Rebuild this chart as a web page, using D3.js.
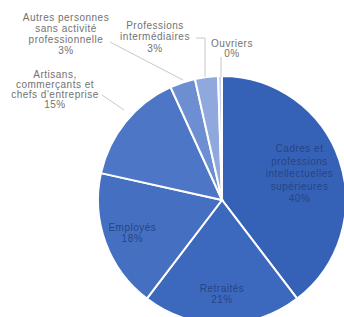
<!DOCTYPE html>
<html>
<head>
<meta charset="utf-8">
<script src="https://cdn.jsdelivr.net/npm/d3@7"></script>
<style>
  body { margin: 0; background: #fff; }
  text { font-family: "Liberation Sans", Arial, sans-serif; }
</style>
</head>
<body>
<div class="pieChart"></div>
<script>

// data, clockwise from 12 o'clock
var categories = [
  ["Cadres et", "professions", "intellectuelles", "supérieures"],
  ["Retraités"],
  ["Employés"],
  ["Artisans,", "commerçants et", "chefs d'entreprise"],
  ["Autres personnes", "sans activité", "professionnelle"],
  ["Professions", "intermédiaires"],
  ["Ouvriers"]
];
var values = [39.6, 20.7, 18.1, 14.7, 3.3, 3.0, 0.5];
var percentLabels = ["40%", "21%", "18%", "15%", "3%", "3%", "0%"];
var colors = ["#3562b6", "#3c69bd", "#4570c2", "#4d77c6", "#6d8fd2", "#8fa8dd", "#c3d0ee"];

var svgWidth = 344;
var svgHeight = 317;

var svg = d3
  .select(".pieChart")
  .append("svg")
  .attr("width", svgWidth)
  .attr("height", svgHeight);

var radius = 124;
var cx = 222, cy = 200;

var chartGroup = svg
  .append("g")
  .attr("transform", `translate(${cx}, ${cy})`);

var pie = d3.pie().sort(null).value(d => d);
var arcs = pie(values);

var arc = d3.arc().innerRadius(0).outerRadius(radius);

chartGroup
  .selectAll("path")
  .data(arcs)
  .join("path")
  .attr("d", arc)
  .attr("fill", (d, i) => colors[i])
  .attr("stroke", "#fff")
  .attr("stroke-width", 2);

// labels inside the three big slices (dark text, low contrast)
var insideR = [0.66, 0.76, 0.77];
var insideLines = [0, 1, 2].map(i => categories[i].concat([percentLabels[i]]));

insideLines.forEach(function (lines, i) {
  var a = arcs[i];
  var mid = (a.startAngle + a.endAngle) / 2;
  var r = radius * insideR[i];
  var x = Math.sin(mid) * r;
  var y = -Math.cos(mid) * r;
  var lh = i == 0 ? 12.5 : 11;
  var t = chartGroup
    .append("text")
    .attr("text-anchor", "middle")
    .style("font-size", "10px")
    .style("letter-spacing", "0.5px")
    .style("fill", "#274483");
  lines.forEach(function (l, j) {
    t.append("tspan")
      .attr("x", x)
      .attr("y", y + (j - (lines.length - 1) / 2) * lh + 3.5)
      .text(l);
  });
});

// outside labels with leader lines
var outside = [
  { i: 3, x: 55, y: 74, lh: 10, line: [[102, 95], [124, 110]] },
  { i: 4, x: 66, y: 17, lh: 11.3, line: [[110, 42], [183, 80]] },
  { i: 5, x: 155, y: 25, lh: 11.5, line: [[196, 38], [205, 38], [205, 77]] },
  { i: 6, x: 232, y: 43, lh: 10.5, line: [[221, 57], [221, 77]] }
];

outside.forEach(function (o) {
  var lines = categories[o.i].concat([percentLabels[o.i]]);
  var t = svg
    .append("text")
    .attr("text-anchor", "middle")
    .style("font-size", "10px")
    .style("letter-spacing", "0.5px")
    .style("fill", "#727272");
  lines.forEach(function (l, j) {
    t.append("tspan")
      .attr("x", o.x)
      .attr("y", o.y + j * o.lh + 3.5)
      .text(l);
  });
  svg
    .append("path")
    .attr("d", d3.line()(o.line))
    .attr("fill", "none")
    .attr("stroke", "#c8c8c8")
    .attr("stroke-width", 1);
});

</script>
</body>
</html>
